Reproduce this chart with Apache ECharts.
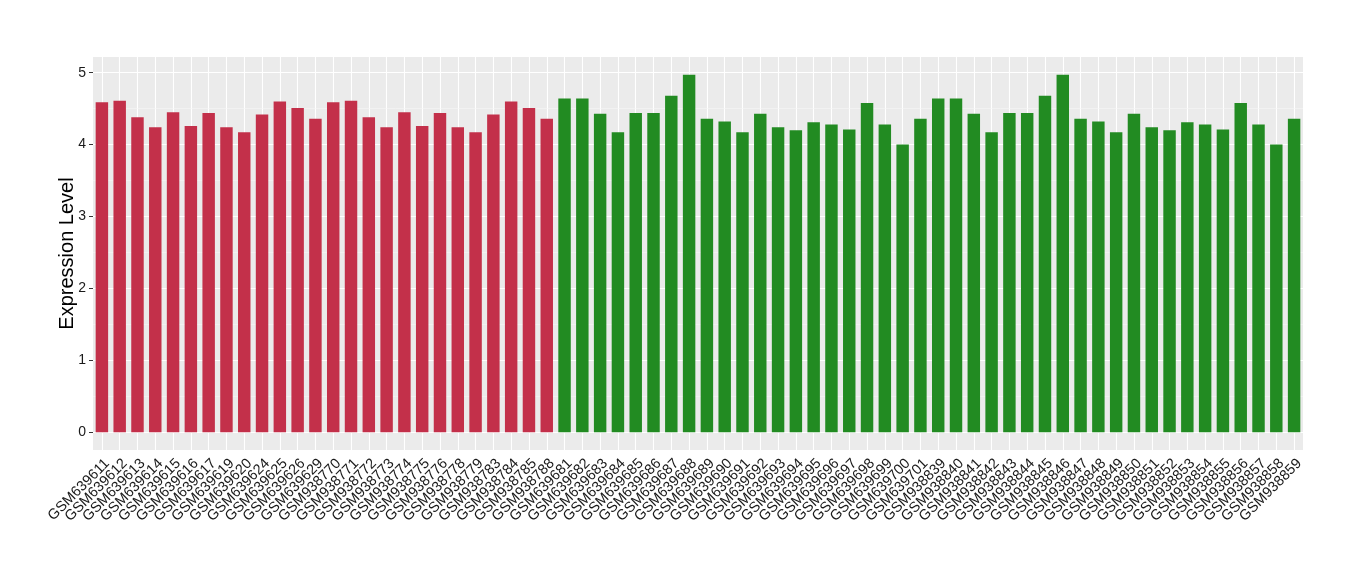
<!DOCTYPE html>
<html>
<head>
<meta charset="utf-8">
<script src="https://cdn.jsdelivr.net/npm/echarts@6/dist/echarts.min.js"></script>
<style>html,body{margin:0;padding:0;background:#fff}#c{width:1360px;height:580px}</style>
</head>
<body>
<div id="c"></div>
<script>
var groupA = ["GSM639611","GSM639612","GSM639613","GSM639614","GSM639615","GSM639616","GSM639617","GSM639619","GSM639620","GSM639624","GSM639625","GSM639626","GSM639629","GSM938770","GSM938771","GSM938772","GSM938773","GSM938774","GSM938775","GSM938776","GSM938778","GSM938779","GSM938783","GSM938784","GSM938785","GSM938788"];
var valuesA = [4.59,4.61,4.38,4.24,4.45,4.26,4.44,4.24,4.17,4.42,4.60,4.51,4.36,4.59,4.61,4.38,4.24,4.45,4.26,4.44,4.24,4.17,4.42,4.60,4.51,4.36];
var groupB = ["GSM639681","GSM639682","GSM639683","GSM639684","GSM639685","GSM639686","GSM639687","GSM639688","GSM639689","GSM639690","GSM639691","GSM639692","GSM639693","GSM639694","GSM639695","GSM639696","GSM639697","GSM639698","GSM639699","GSM639700","GSM639701","GSM938839","GSM938840","GSM938841","GSM938842","GSM938843","GSM938844","GSM938845","GSM938846","GSM938847","GSM938848","GSM938849","GSM938850","GSM938851","GSM938852","GSM938853","GSM938854","GSM938855","GSM938856","GSM938857","GSM938858","GSM938859"];
var valuesB = [4.64,4.64,4.43,4.17,4.44,4.44,4.68,4.97,4.36,4.32,4.17,4.43,4.24,4.20,4.31,4.28,4.21,4.58,4.28,4.00,4.36,4.64,4.64,4.43,4.17,4.44,4.44,4.68,4.97,4.36,4.32,4.17,4.43,4.24,4.20,4.31,4.28,4.21,4.58,4.28,4.00,4.36];
var yTicks = [0,1,2,3,4,5];
var yMinor = [0.5,1.5,2.5,3.5,4.5];
var colorA = "#C3304A", colorB = "#228B22";

var categories = groupA.concat(groupB);
var data = valuesA.map(function(v){return {value:v,itemStyle:{color:colorA}};})
  .concat(valuesB.map(function(v){return {value:v,itemStyle:{color:colorB}};}));
var vmax = Math.max.apply(null, valuesA.concat(valuesB));
var pad = (vmax - 0) * 0.05;

var gridLines = categories.map(function(c){return {xAxis:c,lineStyle:{color:'#fff',width:1.1}};})
  .concat(yMinor.map(function(v){return {yAxis:v,lineStyle:{color:'#F6F6F6',width:0.6}};}));

var chart = echarts.init(document.getElementById('c'), null, {renderer:'canvas'});
chart.setOption({
  animation:false,
  backgroundColor:'#fff',
  textStyle:{fontFamily:'Liberation Sans, Arial, sans-serif'},
  grid:{left:93,right:57,top:57,bottom:130,show:true,backgroundColor:'#EBEBEB',borderWidth:0,containLabel:false},
  xAxis:{
    type:'category', data:categories, boundaryGap:true,
    axisLine:{show:false},
    axisTick:{show:true,alignWithLabel:true,length:4,lineStyle:{color:'#333',width:1}},
    axisLabel:{interval:0,rotate:45,fontSize:14.5,color:'#1a1a1a',margin:6,verticalAlign:'top'},
    splitLine:{show:false}
  },
  yAxis:{
    type:'value', min:-pad, max:vmax+pad,
    name:'Expression Level', nameLocation:'middle', nameGap:16, nameRotate:90,
    nameMoveOverlap:false,
    nameTextStyle:{fontSize:20,color:'#000'},
    axisLine:{show:false},
    axisTick:{show:true,length:4,customValues:yTicks,lineStyle:{color:'#333'}},
    axisLabel:{fontSize:14,color:'#1a1a1a',margin:7,customValues:yTicks},
    splitLine:{show:true,lineStyle:{color:'#fff',width:1.1}}
  },
  series:[{
    type:'bar', data:data, barWidth:'70%', z:3,
    markLine:{silent:true,symbol:'none',label:{show:false},z:1,
      lineStyle:{type:'solid'},
      data:gridLines}
  }]
});
</script>
</body>
</html>
